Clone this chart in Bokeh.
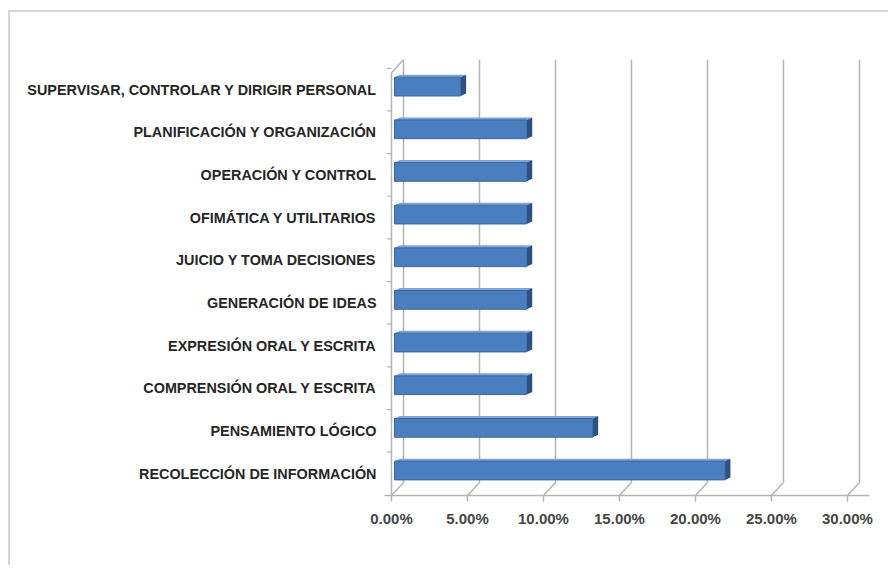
from bokeh.plotting import figure
from bokeh.models import Range1d, FixedTicker, NumeralTickFormatter
from bokeh.embed import file_html
from bokeh.resources import INLINE

# ---- data (bottom to top) ----
categories = [
    "RECOLECCIÓN DE INFORMACIÓN",
    "PENSAMIENTO LÓGICO",
    "COMPRENSIÓN ORAL Y ESCRITA",
    "EXPRESIÓN ORAL Y ESCRITA",
    "GENERACIÓN DE IDEAS",
    "JUICIO Y TOMA DECISIONES",
    "OFIMÁTICA Y UTILITARIOS",
    "OPERACIÓN Y CONTROL",
    "PLANIFICACIÓN Y ORGANIZACIÓN",
    "SUPERVISAR, CONTROLAR Y DIRIGIR PERSONAL",
]
values = [0.2174, 0.1304, 0.0870, 0.0870, 0.0870, 0.0870, 0.0870, 0.0870, 0.0870, 0.0435]
x_ticks = [0.0, 0.05, 0.10, 0.15, 0.20, 0.25, 0.30]

n = len(categories)
idx = list(range(n))

# ---- 3D geometry (in data units) ----
PXX = 1520.0   # px per unit on x
PXY = 42.67    # px per category on y
DX = 12 / PXX  # wall depth, x
DY = 13 / PXY  # wall depth, y
Y0, Y1 = -0.5156, 9.80
TOP = 9.70
BASE = Y0

GRID = "#b4b4b4"

p = figure(width=880, height=555,
           x_range=Range1d(-0.0046, 0.3145), y_range=Range1d(Y0, Y1),
           output_backend="svg", toolbar_location=None,
           min_border_left=374, min_border_right=21,
           min_border_top=43, min_border_bottom=72,
           margin=(10, 0, 0, 8))
p.xgrid.visible = False
p.ygrid.visible = False
p.outline_line_color = None
p.background_fill_color = "white"
p.border_fill_color = "white"
p.styles = {"border-top": "2px solid #d6d6d6", "border-left": "2px solid #d6d6d6"}

# back wall gridlines
p.segment(x0=[t + DX for t in x_ticks], y0=[BASE + DY] * len(x_ticks),
          x1=[t + DX for t in x_ticks], y1=[TOP] * len(x_ticks),
          line_color=GRID, line_width=1.5)
# floor diagonals
p.segment(x0=x_ticks, y0=[BASE] * len(x_ticks),
          x1=[t + DX for t in x_ticks], y1=[BASE + DY] * len(x_ticks),
          line_color=GRID, line_width=1.5)
# left wall front edge and top diagonal
p.segment(x0=[0, 0], y0=[BASE, TOP - DY], x1=[0, DX], y1=[TOP - DY, TOP],
          line_color=GRID, line_width=1.5)
# category boundary ticks on the left wall
bounds = [i + 0.5 for i in range(n)]
p.segment(x0=[-0.003] * n, y0=bounds, x1=[0] * n, y1=bounds,
          line_color=GRID, line_width=1.2)

# ---- bars ----
BX = 3 / PXX
BY = 3 / PXY
H = 0.44
SDX = 5.5 / PXX
SDY = 2.5 / PXY

lefts = [BX] * n
rights = [v + BX for v in values]
bots = [i + BY - H / 2 for i in idx]
tops = [i + BY + H / 2 for i in idx]

# top faces
p.patches(xs=[[l, l + SDX, r + SDX, r] for l, r in zip(lefts, rights)],
          ys=[[t, t + SDY, t + SDY, t] for t in tops],
          fill_color="#7ea5d8", line_color=None)
# side faces
p.patches(xs=[[r, r + SDX, r + SDX, r] for r in rights],
          ys=[[b, b + SDY, t + SDY, t] for b, t in zip(bots, tops)],
          fill_color="#2c5185", line_color=None)
# front faces
p.quad(left=lefts, right=rights, bottom=bots, top=tops,
       fill_color="#4a7ebf", line_color="#3b689f", line_width=1)

# ---- axes ----
xa = p.xaxis[0]
xa.ticker = FixedTicker(ticks=x_ticks)
xa.formatter = NumeralTickFormatter(format="0.00%")
xa.axis_line_color = GRID
xa.axis_line_width = 1.5
xa.major_tick_line_color = GRID
xa.major_tick_line_width = 1.5
xa.major_tick_out = 6
xa.major_tick_in = 0
xa.minor_tick_line_color = None
xa.major_label_standoff = 8
xa.major_label_text_font = "Liberation Sans"
xa.major_label_text_font_style = "bold"
xa.major_label_text_font_size = "15px"
xa.major_label_text_color = "#454545"

ya = p.yaxis[0]
ya.ticker = FixedTicker(ticks=idx)
ya.major_label_overrides = {i: c for i, c in zip(idx, categories)}
ya.axis_line_color = None
ya.major_tick_line_color = None
ya.minor_tick_line_color = None
ya.major_tick_out = 0
ya.major_tick_in = 0
ya.major_label_standoff = 8
ya.major_label_text_font = "Liberation Sans"
ya.major_label_text_font_style = "bold"
ya.major_label_text_font_size = "14.4px"
ya.major_label_text_color = "#262626"

open("out.html", "w").write(file_html(p, INLINE))
